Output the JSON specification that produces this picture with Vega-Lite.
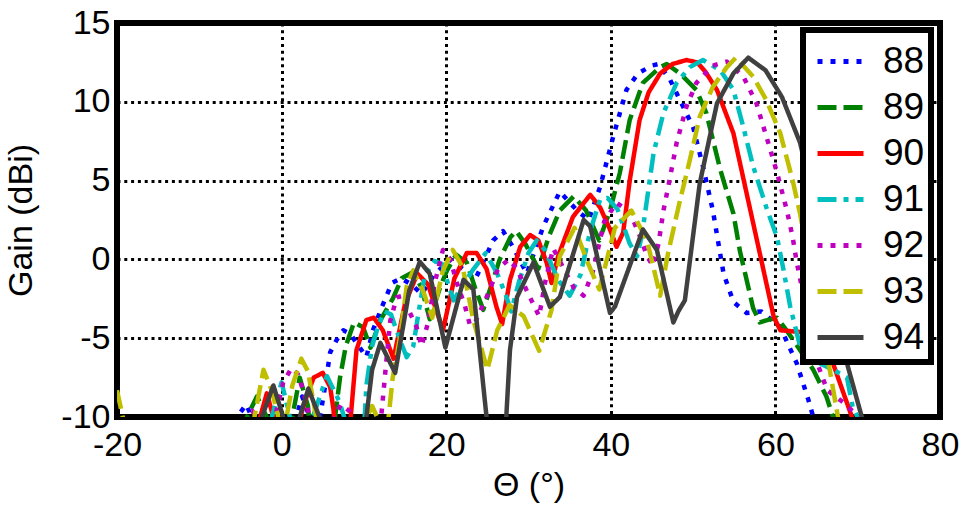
{
"$schema": "https://vega.github.io/schema/vega-lite/v6.json",
"width": 823, "height": 394,
"autosize": {"type": "none"},
"padding": {"left": 117, "top": 23, "right": 25, "bottom": 91},
"background": "white",
"config": {
  "font": "Liberation Sans",
  "view": {"stroke": "black", "strokeWidth": 6},
  "axis": {"grid": true, "gridColor": "black", "gridDash": [3, 3.8], "gridWidth": 3, "gridOpacity": 1, "domain": false, "ticks": false, "labelFontSize": 34, "labelColor": "black", "labelFlush": false, "labelOverlap": false, "labelBound": false, "titleFontSize": 34, "titleFontWeight": "normal", "titleColor": "black"},
  "legend": {"strokeColor": "black", "strokeWidth": 6, "fillColor": "white", "padding": 6, "labelFontSize": 37, "labelColor": "black", "symbolStrokeWidth": 5, "symbolSize": 2116, "symbolType": "stroke", "rowPadding": 2, "labelOffset": 17, "symbolOffset": 6}
},
"data": {"values": [
{"f":"88","t":-20,"g":-13},{"f":"88","t":-6,"g":-13},{"f":"88","t":-5.4,"g":-10},{"f":"88","t":-4.3,"g":-9.2},{"f":"88","t":-3.2,"g":-10.5},{"f":"88","t":-2.2,"g":-13},{"f":"88","t":1.4,"g":-13},{"f":"88","t":1.8,"g":-10},{"f":"88","t":2.5,"g":-8.7},{"f":"88","t":3.4,"g":-10},{"f":"88","t":4.0,"g":-13},{"f":"88","t":4.5,"g":-10.5},{"f":"88","t":5.3,"g":-8},{"f":"88","t":5.9,"g":-5.9},{"f":"88","t":6.7,"g":-5.1},{"f":"88","t":7.5,"g":-4.5},{"f":"88","t":8.3,"g":-4.7},{"f":"88","t":9.1,"g":-5.3},{"f":"88","t":10.3,"g":-6.2},{"f":"88","t":11.1,"g":-4.5},{"f":"88","t":12.2,"g":-3.0},{"f":"88","t":13.4,"g":-1.5},{"f":"88","t":14.5,"g":-1.2},{"f":"88","t":15.8,"g":-1.6},{"f":"88","t":17,"g":-2.2},{"f":"88","t":18.5,"g":-1.0},{"f":"88","t":20.5,"g":0.0},{"f":"88","t":22,"g":-0.6},{"f":"88","t":23.5,"g":-1.3},{"f":"88","t":25.7,"g":1.2},{"f":"88","t":26.9,"g":1.8},{"f":"88","t":28.1,"g":0.8},{"f":"88","t":29.8,"g":-0.9},{"f":"88","t":31.8,"g":2.1},{"f":"88","t":33.8,"g":4.3},{"f":"88","t":35.9,"g":3.1},{"f":"88","t":37.3,"g":2.5},{"f":"88","t":38.7,"g":4.6},{"f":"88","t":40.3,"g":7.8},{"f":"88","t":41.9,"g":10.75},{"f":"88","t":43.3,"g":11.8},{"f":"88","t":45,"g":12.3},{"f":"88","t":45.8,"g":12.4},{"f":"88","t":47.2,"g":11.4},{"f":"88","t":48.4,"g":10.1},{"f":"88","t":50,"g":8.4},{"f":"88","t":51.2,"g":5.9},{"f":"88","t":52.4,"g":3.1},{"f":"88","t":53.7,"g":-0.9},{"f":"88","t":54.9,"g":-2.7},{"f":"88","t":56.5,"g":-3.4},{"f":"88","t":58.3,"g":-3.3},{"f":"88","t":60.6,"g":-4.3},{"f":"88","t":62.6,"g":-6.6},{"f":"88","t":64,"g":-8.9},{"f":"88","t":64.6,"g":-10},{"f":"88","t":65.2,"g":-13},
{"f":"89","t":-20,"g":-13},{"f":"89","t":-4.8,"g":-13},{"f":"89","t":-4.2,"g":-10},{"f":"89","t":-3.0,"g":-8.7},{"f":"89","t":-1.8,"g":-10},{"f":"89","t":-1.2,"g":-13},{"f":"89","t":0.8,"g":-13},{"f":"89","t":1.3,"g":-10},{"f":"89","t":2.2,"g":-7.5},{"f":"89","t":3.2,"g":-9.3},{"f":"89","t":3.8,"g":-13},{"f":"89","t":6.0,"g":-13},{"f":"89","t":6.5,"g":-10},{"f":"89","t":7.1,"g":-7.5},{"f":"89","t":7.8,"g":-5.5},{"f":"89","t":8.8,"g":-4.0},{"f":"89","t":9.9,"g":-4.3},{"f":"89","t":10.8,"g":-5.6},{"f":"89","t":12,"g":-3.85},{"f":"89","t":13.5,"g":-2.5},{"f":"89","t":14.6,"g":-1.2},{"f":"89","t":16,"g":-0.8},{"f":"89","t":17,"g":-1.8},{"f":"89","t":18,"g":-3.8},{"f":"89","t":19.3,"g":-1.7},{"f":"89","t":20.1,"g":-0.7},{"f":"89","t":21.2,"g":0.3},{"f":"89","t":22.5,"g":-0.2},{"f":"89","t":23.5,"g":-1.8},{"f":"89","t":24.5,"g":-3.2},{"f":"89","t":25.7,"g":-1.3},{"f":"89","t":26.5,"g":0},{"f":"89","t":27.8,"g":1.4},{"f":"89","t":28.5,"g":1.8},{"f":"89","t":29.6,"g":1.0},{"f":"89","t":31.2,"g":-0.6},{"f":"89","t":32.5,"g":1.5},{"f":"89","t":33.8,"g":3.1},{"f":"89","t":35.5,"g":4.0},{"f":"89","t":37,"g":3.1},{"f":"89","t":38.6,"g":1.2},{"f":"89","t":39.9,"g":3.1},{"f":"89","t":41.1,"g":5.5},{"f":"89","t":42.3,"g":8.85},{"f":"89","t":43.9,"g":11.2},{"f":"89","t":46,"g":12.2},{"f":"89","t":46.8,"g":12.4},{"f":"89","t":48.4,"g":11.8},{"f":"89","t":50.4,"g":10.75},{"f":"89","t":51.6,"g":9.3},{"f":"89","t":53.3,"g":5.7},{"f":"89","t":54.9,"g":2.9},{"f":"89","t":55.7,"g":0.5},{"f":"89","t":57.3,"g":-3.1},{"f":"89","t":58.1,"g":-4.0},{"f":"89","t":59,"g":-3.85},{"f":"89","t":60.2,"g":-3.7},{"f":"89","t":61.5,"g":-4.6},{"f":"89","t":64.6,"g":-7.0},{"f":"89","t":66.2,"g":-8.7},{"f":"89","t":67,"g":-10},{"f":"89","t":67.6,"g":-13},
{"f":"90","t":-20,"g":-13},{"f":"90","t":-3,"g":-13},{"f":"90","t":-2.6,"g":-10},{"f":"90","t":-1.8,"g":-8.5},{"f":"90","t":-1.0,"g":-10},{"f":"90","t":-0.5,"g":-13},{"f":"90","t":1.8,"g":-13},{"f":"90","t":2.3,"g":-10},{"f":"90","t":2.9,"g":-8.9},{"f":"90","t":3.9,"g":-7.5},{"f":"90","t":5,"g":-7.2},{"f":"90","t":5.9,"g":-8.1},{"f":"90","t":6.3,"g":-9.5},{"f":"90","t":6.8,"g":-13},{"f":"90","t":8.0,"g":-13},{"f":"90","t":8.4,"g":-10},{"f":"90","t":9.1,"g":-5.75},{"f":"90","t":10.3,"g":-3.85},{"f":"90","t":11.2,"g":-3.7},{"f":"90","t":12.3,"g":-4.5},{"f":"90","t":13.6,"g":-6.3},{"f":"90","t":15,"g":-2.8},{"f":"90","t":16.5,"g":-0.9},{"f":"90","t":17.8,"g":-1.6},{"f":"90","t":19.6,"g":-4.5},{"f":"90","t":21,"g":-1.2},{"f":"90","t":22.5,"g":0.4},{"f":"90","t":23.7,"g":0.4},{"f":"90","t":24.9,"g":-0.6},{"f":"90","t":26.1,"g":-3.0},{"f":"90","t":26.8,"g":-4.1},{"f":"90","t":27.75,"g":-1.3},{"f":"90","t":29,"g":0.8},{"f":"90","t":30.2,"g":1.55},{"f":"90","t":31.2,"g":1.2},{"f":"90","t":32.2,"g":-0.2},{"f":"90","t":32.8,"g":-1.5},{"f":"90","t":33.6,"g":0.2},{"f":"90","t":35.4,"g":2.7},{"f":"90","t":37.5,"g":4.1},{"f":"90","t":38.7,"g":3.3},{"f":"90","t":39.9,"g":1.9},{"f":"90","t":40.7,"g":0.8},{"f":"90","t":41.5,"g":1.7},{"f":"90","t":42.3,"g":5.0},{"f":"90","t":43.5,"g":8.85},{"f":"90","t":44.6,"g":10.6},{"f":"90","t":46,"g":11.8},{"f":"90","t":47.5,"g":12.4},{"f":"90","t":49.2,"g":12.65},{"f":"90","t":50.5,"g":12.5},{"f":"90","t":51.5,"g":11.9},{"f":"90","t":52.9,"g":10.75},{"f":"90","t":54.9,"g":8.0},{"f":"90","t":57.3,"g":2.3},{"f":"90","t":59.8,"g":-3.65},{"f":"90","t":60.6,"g":-4.5},{"f":"90","t":63,"g":-4.6},{"f":"90","t":64.5,"g":-5.2},{"f":"90","t":67,"g":-6.6},{"f":"90","t":69.3,"g":-10},{"f":"90","t":69.8,"g":-13},
{"f":"91","t":-20,"g":-13},{"f":"91","t":-1.8,"g":-13},{"f":"91","t":-1.2,"g":-10},{"f":"91","t":0,"g":-7.8},{"f":"91","t":1.0,"g":-10},{"f":"91","t":1.5,"g":-13},{"f":"91","t":3.3,"g":-13},{"f":"91","t":3.8,"g":-10},{"f":"91","t":5.5,"g":-7.4},{"f":"91","t":7.0,"g":-9},{"f":"91","t":7.6,"g":-10},{"f":"91","t":8.1,"g":-13},{"f":"91","t":9.8,"g":-13},{"f":"91","t":10.3,"g":-8},{"f":"91","t":11,"g":-5.5},{"f":"91","t":11.7,"g":-4.3},{"f":"91","t":12.5,"g":-3.3},{"f":"91","t":13.3,"g":-3.5},{"f":"91","t":14.3,"g":-5},{"f":"91","t":15.2,"g":-6.2},{"f":"91","t":16,"g":-5.5},{"f":"91","t":16.6,"g":-3.5},{"f":"91","t":17.4,"g":-1.0},{"f":"91","t":18.6,"g":-0.1},{"f":"91","t":19.5,"g":-0.3},{"f":"91","t":20.2,"g":-1.5},{"f":"91","t":20.9,"g":-2.6},{"f":"91","t":21.8,"g":-1.8},{"f":"91","t":23.2,"g":-0.7},{"f":"91","t":24.8,"g":0.4},{"f":"91","t":26.2,"g":-0.9},{"f":"91","t":27.2,"g":-2.2},{"f":"91","t":27.9,"g":-3.3},{"f":"91","t":28.8,"g":-1.5},{"f":"91","t":30,"g":0.4},{"f":"91","t":31,"g":1.2},{"f":"91","t":32,"g":0.6},{"f":"91","t":33.6,"g":-1.3},{"f":"91","t":35,"g":-2.3},{"f":"91","t":36.3,"g":-1.0},{"f":"91","t":37.5,"g":1.8},{"f":"91","t":38.7,"g":3.8},{"f":"91","t":39.6,"g":3.9},{"f":"91","t":40.8,"g":3.2},{"f":"91","t":42.3,"g":1.0},{"f":"91","t":43.2,"g":0.2},{"f":"91","t":43.8,"g":1.6},{"f":"91","t":44.4,"g":3.8},{"f":"91","t":45.2,"g":6.75},{"f":"91","t":46.4,"g":9.3},{"f":"91","t":48,"g":11.2},{"f":"91","t":49.6,"g":12.2},{"f":"91","t":51.2,"g":12.65},{"f":"91","t":53.3,"g":12.0},{"f":"91","t":54.9,"g":10.75},{"f":"91","t":56.1,"g":8.4},{"f":"91","t":57.3,"g":5.9},{"f":"91","t":58.9,"g":3.3},{"f":"91","t":60.2,"g":1.4},{"f":"91","t":61,"g":-0.7},{"f":"91","t":61.8,"g":-3.0},{"f":"91","t":63,"g":-5.5},{"f":"91","t":65,"g":-6.5},{"f":"91","t":67,"g":-7.0},{"f":"91","t":68.7,"g":-7.5},{"f":"91","t":69.4,"g":-9.4},{"f":"91","t":70.2,"g":-10.2},{"f":"91","t":70.6,"g":-13},
{"f":"92","t":-20,"g":-13},{"f":"92","t":-4.6,"g":-13},{"f":"92","t":-4.2,"g":-10},{"f":"92","t":-3.6,"g":-9.6},{"f":"92","t":-3.0,"g":-10},{"f":"92","t":-2.5,"g":-13},{"f":"92","t":-1.4,"g":-13},{"f":"92","t":-0.8,"g":-10},{"f":"92","t":0.2,"g":-7.8},{"f":"92","t":1.2,"g":-6.9},{"f":"92","t":2.0,"g":-7.3},{"f":"92","t":2.6,"g":-8.3},{"f":"92","t":3.4,"g":-10},{"f":"92","t":3.9,"g":-13},{"f":"92","t":6.0,"g":-13},{"f":"92","t":6.4,"g":-10},{"f":"92","t":7.2,"g":-9.2},{"f":"92","t":8.2,"g":-9.6},{"f":"92","t":8.6,"g":-10},{"f":"92","t":9.0,"g":-13},{"f":"92","t":11.6,"g":-13},{"f":"92","t":12.1,"g":-10},{"f":"92","t":12.4,"g":-8.3},{"f":"92","t":12.7,"g":-6.6},{"f":"92","t":13.2,"g":-3.9},{"f":"92","t":14,"g":-2.4},{"f":"92","t":14.8,"g":-2.3},{"f":"92","t":15.6,"g":-3.4},{"f":"92","t":16.4,"g":-4.3},{"f":"92","t":17,"g":-5.5},{"f":"92","t":17.8,"g":-4.0},{"f":"92","t":18.6,"g":-1.5},{"f":"92","t":19.6,"g":0.6},{"f":"92","t":20.5,"g":0.0},{"f":"92","t":21.3,"g":-1.5},{"f":"92","t":22.3,"g":-3.0},{"f":"92","t":22.9,"g":-4.2},{"f":"92","t":23.6,"g":-3.9},{"f":"92","t":24.9,"g":-2.4},{"f":"92","t":26.3,"g":-0.6},{"f":"92","t":27.6,"g":0.0},{"f":"92","t":28.6,"g":-0.6},{"f":"92","t":29.8,"g":-2.0},{"f":"92","t":31.3,"g":-3.6},{"f":"92","t":32,"g":-1.5},{"f":"92","t":33,"g":0.7},{"f":"92","t":34.2,"g":-0.5},{"f":"92","t":35.5,"g":-1.8},{"f":"92","t":36.7,"g":-2.3},{"f":"92","t":37.8,"g":-0.8},{"f":"92","t":39.2,"g":2.4},{"f":"92","t":40.7,"g":3.6},{"f":"92","t":42.3,"g":3.0},{"f":"92","t":43.6,"g":1.4},{"f":"92","t":44.4,"g":0.2},{"f":"92","t":45.1,"g":-0.4},{"f":"92","t":45.8,"g":1.0},{"f":"92","t":46.4,"g":3.1},{"f":"92","t":47.2,"g":5.2},{"f":"92","t":48,"g":7.4},{"f":"92","t":49.2,"g":9.7},{"f":"92","t":50.4,"g":11.2},{"f":"92","t":52.4,"g":12.3},{"f":"92","t":54.1,"g":12.55},{"f":"92","t":56.1,"g":11.6},{"f":"92","t":57.7,"g":9.9},{"f":"92","t":58.9,"g":7.8},{"f":"92","t":60.2,"g":5.5},{"f":"92","t":61.4,"g":3.1},{"f":"92","t":62.1,"g":1.4},{"f":"92","t":62.6,"g":-0.2},{"f":"92","t":63.5,"g":-2.5},{"f":"92","t":65.1,"g":-6.6},{"f":"92","t":66.3,"g":-8.3},{"f":"92","t":68.3,"g":-9.1},{"f":"92","t":69.9,"g":-9.9},{"f":"92","t":70.3,"g":-13},
{"f":"93","t":-20,"g":-8.3},{"f":"93","t":-19.3,"g":-10},{"f":"93","t":-18.9,"g":-13},{"f":"93","t":-3.8,"g":-13},{"f":"93","t":-3.3,"g":-10},{"f":"93","t":-2.2,"g":-7.0},{"f":"93","t":-1.2,"g":-8.3},{"f":"93","t":-0.4,"g":-10},{"f":"93","t":0.1,"g":-13},{"f":"93","t":0.6,"g":-10},{"f":"93","t":1.3,"g":-8},{"f":"93","t":2.4,"g":-6.3},{"f":"93","t":3.2,"g":-7.1},{"f":"93","t":4.2,"g":-10},{"f":"93","t":4.7,"g":-13},{"f":"93","t":9.9,"g":-13},{"f":"93","t":10.4,"g":-10},{"f":"93","t":11,"g":-9.3},{"f":"93","t":11.6,"g":-10},{"f":"93","t":12.1,"g":-13},{"f":"93","t":12.7,"g":-13},{"f":"93","t":13.0,"g":-10},{"f":"93","t":13.5,"g":-7.5},{"f":"93","t":14.4,"g":-4.9},{"f":"93","t":15.2,"g":-1.7},{"f":"93","t":16.0,"g":-0.7},{"f":"93","t":17.2,"g":-2.0},{"f":"93","t":18.3,"g":-3.7},{"f":"93","t":19.6,"g":-0.7},{"f":"93","t":20.8,"g":0.6},{"f":"93","t":22,"g":-0.5},{"f":"93","t":23.3,"g":-3.85},{"f":"93","t":25.0,"g":-7.0},{"f":"93","t":26.2,"g":-4.5},{"f":"93","t":27.7,"g":-2.9},{"f":"93","t":29.4,"g":-3.6},{"f":"93","t":31.3,"g":-5.8},{"f":"93","t":32.8,"g":-3.2},{"f":"93","t":33.8,"g":0.2},{"f":"93","t":35.6,"g":2.0},{"f":"93","t":37.2,"g":-0.2},{"f":"93","t":38.6,"g":-1.9},{"f":"93","t":40.5,"g":2.0},{"f":"93","t":42.5,"g":3.1},{"f":"93","t":44.4,"g":1.2},{"f":"93","t":46,"g":-2.3},{"f":"93","t":47,"g":0.5},{"f":"93","t":48.3,"g":3.5},{"f":"93","t":49.6,"g":6.3},{"f":"93","t":50.8,"g":9.05},{"f":"93","t":52.4,"g":10.95},{"f":"93","t":54.1,"g":12.2},{"f":"93","t":55.2,"g":12.8},{"f":"93","t":57.3,"g":11.6},{"f":"93","t":58.9,"g":10.1},{"f":"93","t":60.6,"g":8.0},{"f":"93","t":62.1,"g":5.0},{"f":"93","t":63,"g":2.9},{"f":"93","t":64.5,"g":-1.5},{"f":"93","t":66,"g":-5.5},{"f":"93","t":66.6,"g":-7.0},{"f":"93","t":67.6,"g":-10},{"f":"93","t":68.1,"g":-13},
{"f":"94","t":-20,"g":-13},{"f":"94","t":-3,"g":-13},{"f":"94","t":-2.4,"g":-10},{"f":"94","t":-1.0,"g":-8.0},{"f":"94","t":0.2,"g":-10},{"f":"94","t":0.8,"g":-13},{"f":"94","t":1.6,"g":-13},{"f":"94","t":2.2,"g":-10},{"f":"94","t":3.25,"g":-8.2},{"f":"94","t":4.6,"g":-10},{"f":"94","t":5.2,"g":-13},{"f":"94","t":9.8,"g":-13},{"f":"94","t":10.3,"g":-10},{"f":"94","t":11,"g":-7},{"f":"94","t":12,"g":-5.3},{"f":"94","t":13.8,"g":-7.2},{"f":"94","t":15.5,"g":-2},{"f":"94","t":16.8,"g":-0.15},{"f":"94","t":18,"g":-0.9},{"f":"94","t":19.9,"g":-5.6},{"f":"94","t":22.1,"g":-1.3},{"f":"94","t":23.3,"g":-1.9},{"f":"94","t":24.9,"g":-10},{"f":"94","t":25.4,"g":-13},{"f":"94","t":26.8,"g":-13},{"f":"94","t":27.3,"g":-10},{"f":"94","t":27.75,"g":-5.75},{"f":"94","t":28.6,"g":-2.4},{"f":"94","t":30.6,"g":-0.2},{"f":"94","t":32.6,"g":-3.0},{"f":"94","t":33.8,"g":-2.4},{"f":"94","t":36.7,"g":2.5},{"f":"94","t":37.5,"g":2.1},{"f":"94","t":39.9,"g":-3.4},{"f":"94","t":40.5,"g":-3.0},{"f":"94","t":43.9,"g":1.9},{"f":"94","t":45.6,"g":0.6},{"f":"94","t":47.6,"g":-4.0},{"f":"94","t":48.2,"g":-3.3},{"f":"94","t":49,"g":-2.6},{"f":"94","t":50.8,"g":4.8},{"f":"94","t":52.9,"g":9.9},{"f":"94","t":54.9,"g":11.8},{"f":"94","t":56.7,"g":12.8},{"f":"94","t":58.8,"g":12.0},{"f":"94","t":60.8,"g":10.3},{"f":"94","t":63,"g":7.4},{"f":"94","t":65,"g":3},{"f":"94","t":66.5,"g":-1},{"f":"94","t":67.5,"g":-4},{"f":"94","t":68.7,"g":-6.6},{"f":"94","t":70.5,"g":-10},{"f":"94","t":71,"g":-13}
]},
"mark": {"type": "line", "clip": true, "strokeWidth": 4.5, "strokeCap": "butt", "strokeJoin": "round"},
"encoding": {
  "x": {"field": "t", "type": "quantitative", "scale": {"domain": [-20, 80], "nice": false, "zero": false},
        "axis": {"values": [-20, 0, 20, 40, 60, 80], "labelPadding": 11, "labelExpr": "'' + datum.value", "title": "Θ (°)", "titlePadding": 6}},
  "y": {"field": "g", "type": "quantitative", "scale": {"domain": [-10, 15], "nice": false, "zero": false},
        "axis": {"values": [-10, -5, 0, 5, 10, 15], "labelPadding": 7, "labelExpr": "'' + datum.value", "title": "Gain (dBi)", "titlePadding": 22}},
  "color": {"field": "f", "type": "nominal",
            "scale": {"domain": ["88", "89", "90", "91", "92", "93", "94"], "range": ["#0000ff", "#008000", "#ff0000", "#00bfbf", "#bf00bf", "#bfbf00", "#404040"]},
            "legend": {"title": null, "orient": "none", "legendX": 686, "legendY": 7}},
  "strokeDash": {"field": "f", "type": "nominal",
            "scale": {"domain": ["88", "89", "90", "91", "92", "93", "94"], "range": [[5, 8], [19, 7], [1, 0], [19, 7, 5, 7], [5, 8], [19, 7], [1, 0]]},
            "legend": {"title": null, "orient": "none", "legendX": 686, "legendY": 7}}
}
}
